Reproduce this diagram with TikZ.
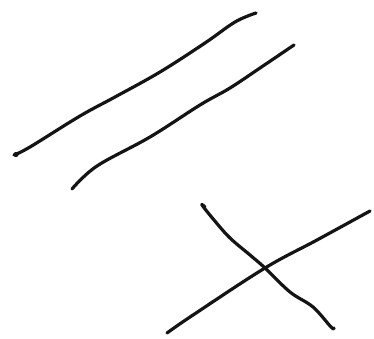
\documentclass[tikz,border=0pt]{standalone}
\begin{document}
\begin{tikzpicture}[x=1pt,y=-1pt,
  stroke/.style={line width=3.2pt,line cap=round,line join=round,black!92}]
\useasboundingbox[fill=white] (0,0) rectangle (374,339);
% first stroke of the pair
\draw[stroke] plot[smooth,tension=0.6] coordinates {(14,155) (30,147) (80,116) (115,97) (160,72) (205,43) (235,22) (256,13)};
\fill[black!92] (16,154.5) circle (2.6pt);
% second stroke of the pair
\draw[stroke] plot[smooth,tension=0.6] coordinates {(72,189) (97,166) (150,137) (200,105) (230,88) (260,68) (294,45)};
% cross, first stroke
\draw[stroke] plot[smooth,tension=0.6] coordinates {(167,333) (193,315) (265,268) (317,240) (370,211)};
% cross, second stroke
\draw[stroke] plot[smooth,tension=0.6] coordinates {(205,207) (202,205) (214,220) (230,238) (250,255) (265,268) (290,292) (313,307) (331,327) (334,328)};
\end{tikzpicture}
\end{document}
